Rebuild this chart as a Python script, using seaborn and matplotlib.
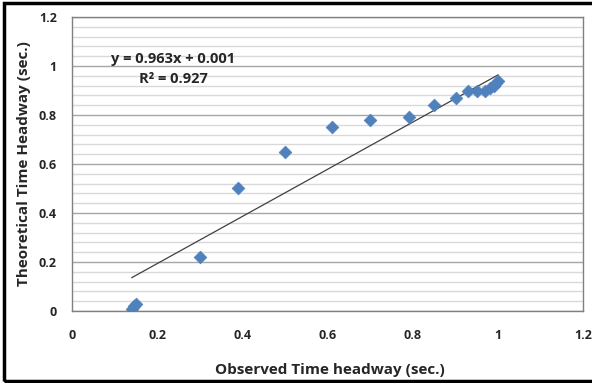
import matplotlib
matplotlib.use("Agg")
import matplotlib.pyplot as plt
import seaborn as sns
import numpy as np
import pandas as pd
from matplotlib.patches import Rectangle
from matplotlib.ticker import MultipleLocator

observed = [0.14, 0.145, 0.15, 0.30, 0.39, 0.50, 0.61, 0.70, 0.79, 0.85, 0.90, 0.93, 0.95, 0.97, 0.98, 0.99, 0.995, 1.0]
theoretical = [0.01, 0.02, 0.03, 0.22, 0.50, 0.65, 0.75, 0.78, 0.79, 0.84, 0.87, 0.90, 0.90, 0.90, 0.91, 0.92, 0.93, 0.94]
slope = 0.963
intercept = 0.001
eq_text = "y = 0.963x + 0.001"
r2_text = "R² = 0.927"
x_ticks = [0, 0.2, 0.4, 0.6, 0.8, 1.0, 1.2]
x_tick_labels = ["0", "0.2", "0.4", "0.6", "0.8", "1", "1.2"]
y_ticks = [0, 0.2, 0.4, 0.6, 0.8, 1.0, 1.2]
y_tick_labels = ["0", "0.2", "0.4", "0.6", "0.8", "1", "1.2"]

sns.set_style("white")
plt.rcParams['font.family'] = ['Open Sans', 'DejaVu Sans']

df = pd.DataFrame({"Observed": observed, "Theoretical": theoretical})

fig = plt.figure(figsize=(5.92, 3.83), dpi=100)
ax = fig.add_axes([0.1216, 0.188, 0.864, 0.7676])

ax.set_xlim(0, 1.2)
ax.set_ylim(0, 1.2)
ax.yaxis.set_minor_locator(MultipleLocator(0.04))
ax.grid(which="minor", axis="y", color="#d9d9d9", linewidth=1.0)
ax.grid(which="major", axis="y", color="#a6a6a6", linewidth=1.0)
ax.set_axisbelow(True)

xs = np.array([min(observed), max(observed)])
ax.plot(xs, slope * xs + intercept, color="#404040", linewidth=0.9, zorder=2)

sns.scatterplot(data=df, x="Observed", y="Theoretical", marker="D", s=42,
                color="#4F81BD", edgecolor="#4F81BD", linewidth=0.5, ax=ax, zorder=3)

ax.set_xticks(x_ticks)
ax.set_xticklabels(x_tick_labels)
ax.set_yticks(y_ticks)
ax.set_yticklabels(y_tick_labels)
ax.tick_params(axis="both", which="major", direction="out", length=5, width=1,
               color="#808080", labelsize=9, pad=6)
ax.tick_params(axis="y", which="minor", length=0)
for lab in ax.get_xticklabels() + ax.get_yticklabels():
    lab.set_fontweight("bold")
ax.xaxis.set_tick_params(pad=8)

for sp in ax.spines.values():
    sp.set_color("#808080")
    sp.set_linewidth(1.0)

ax.set_xlabel("Observed Time headway (sec.)", fontsize=11, fontweight="bold")
ax.set_ylabel("Theoretical Time Headway (sec.)", fontsize=11, fontweight="bold")
ax.xaxis.set_label_coords(0.505, -0.177)
ax.yaxis.set_label_coords(-0.08, 0.5)

ax.text(0.237, 1.03, eq_text, fontsize=10.5, fontweight="bold", ha="center", va="center")
ax.text(0.237, 0.945, r2_text, fontsize=10.5, fontweight="bold", ha="center", va="center")

fig.patches.append(Rectangle((0.006, 0.006), 1.0, 0.985, transform=fig.transFigure,
                             fill=False, edgecolor="black", linewidth=2.5))

fig.savefig("out.png", dpi=100)
